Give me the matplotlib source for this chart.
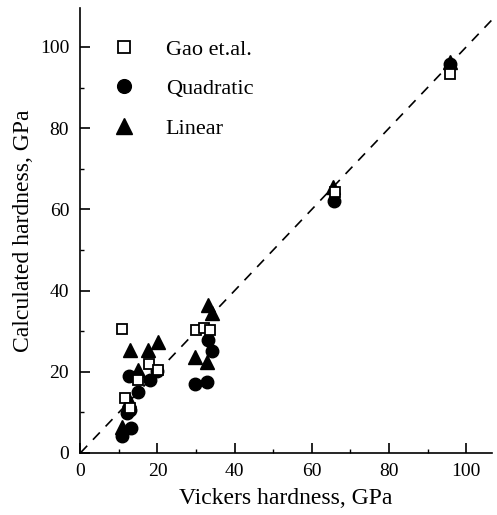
import matplotlib
matplotlib.use("Agg")
import matplotlib.pyplot as plt
from matplotlib.ticker import MultipleLocator

# Gao et.al. (open squares)
gao_x = [10.8, 11.6, 12.9, 15.0, 17.8, 20.1, 30.0, 32.0, 33.5, 66.0, 95.8]
gao_y = [30.5, 13.5, 11.0, 18.0, 21.9, 20.4, 30.3, 30.8, 30.3, 64.3, 93.3]

# Quadratic (filled circles)
quad_x = [10.9, 13.1, 12.0, 13.0, 12.7, 15.0, 18.0, 20.0, 29.7, 32.8, 34.1, 33.1, 65.8, 95.8]
quad_y = [4.2, 6.2, 9.9, 10.5, 18.9, 15.0, 18.1, 20.2, 17.1, 17.6, 25.1, 27.8, 62.0, 95.7]

# Linear (filled triangles)
lin_x = [10.9, 12.6, 12.9, 15.0, 17.6, 20.1, 29.7, 32.8, 33.1, 34.1, 65.5, 95.8]
lin_y = [6.4, 13.0, 25.4, 20.4, 25.4, 27.3, 23.7, 22.4, 36.5, 34.5, 65.5, 96.3]

plt.rcParams["font.family"] = ["Liberation Serif", "DejaVu Serif"]

fig = plt.figure(figsize=(4.97, 5.15), dpi=100)
ax = fig.add_axes([0.1616, 0.1204, 0.8284, 0.8641])

ax.plot([0, 108], [0, 108], color="black", lw=1.2, ls=(0, (6, 5)), zorder=1)

ax.plot(gao_x, gao_y, ls="none", marker="s", ms=7.5, mfc="white", mec="black",
        mew=1.3, label="Gao et.al.", zorder=3)
ax.plot(quad_x, quad_y, ls="none", marker="o", ms=9, color="black",
        label="Quadratic", zorder=2)
ax.plot(lin_x, lin_y, ls="none", marker="^", ms=10, color="black",
        label="Linear", zorder=2)

ax.set_xlim(0, 106.7)
ax.set_ylim(0, 109.6)
ax.xaxis.set_major_locator(MultipleLocator(20))
ax.yaxis.set_major_locator(MultipleLocator(20))
ax.xaxis.set_minor_locator(MultipleLocator(10))
ax.yaxis.set_minor_locator(MultipleLocator(10))
ax.tick_params(which="major", direction="in", length=7, width=1.2, labelsize=14)
ax.tick_params(axis="x", which="major", pad=7)
ax.tick_params(axis="y", which="major", pad=8)
ax.tick_params(which="minor", direction="in", length=3, width=1.0)
for s in ["top", "right"]:
    ax.spines[s].set_visible(False)
for s in ["left", "bottom"]:
    ax.spines[s].set_linewidth(1.2)

ax.set_xlabel("Vickers hardness, GPa", fontsize=17, labelpad=6)
ax.set_ylabel("Calculated hardness, GPa", fontsize=17, labelpad=4)

ax.legend(loc="upper left", bbox_to_anchor=(0.053, 0.93), frameon=False,
          fontsize=16, handlelength=2.0, handletextpad=0.86, labelspacing=0.85,
          borderpad=0, borderaxespad=0, markerscale=1.1)

fig.savefig("out.png", dpi=100)
